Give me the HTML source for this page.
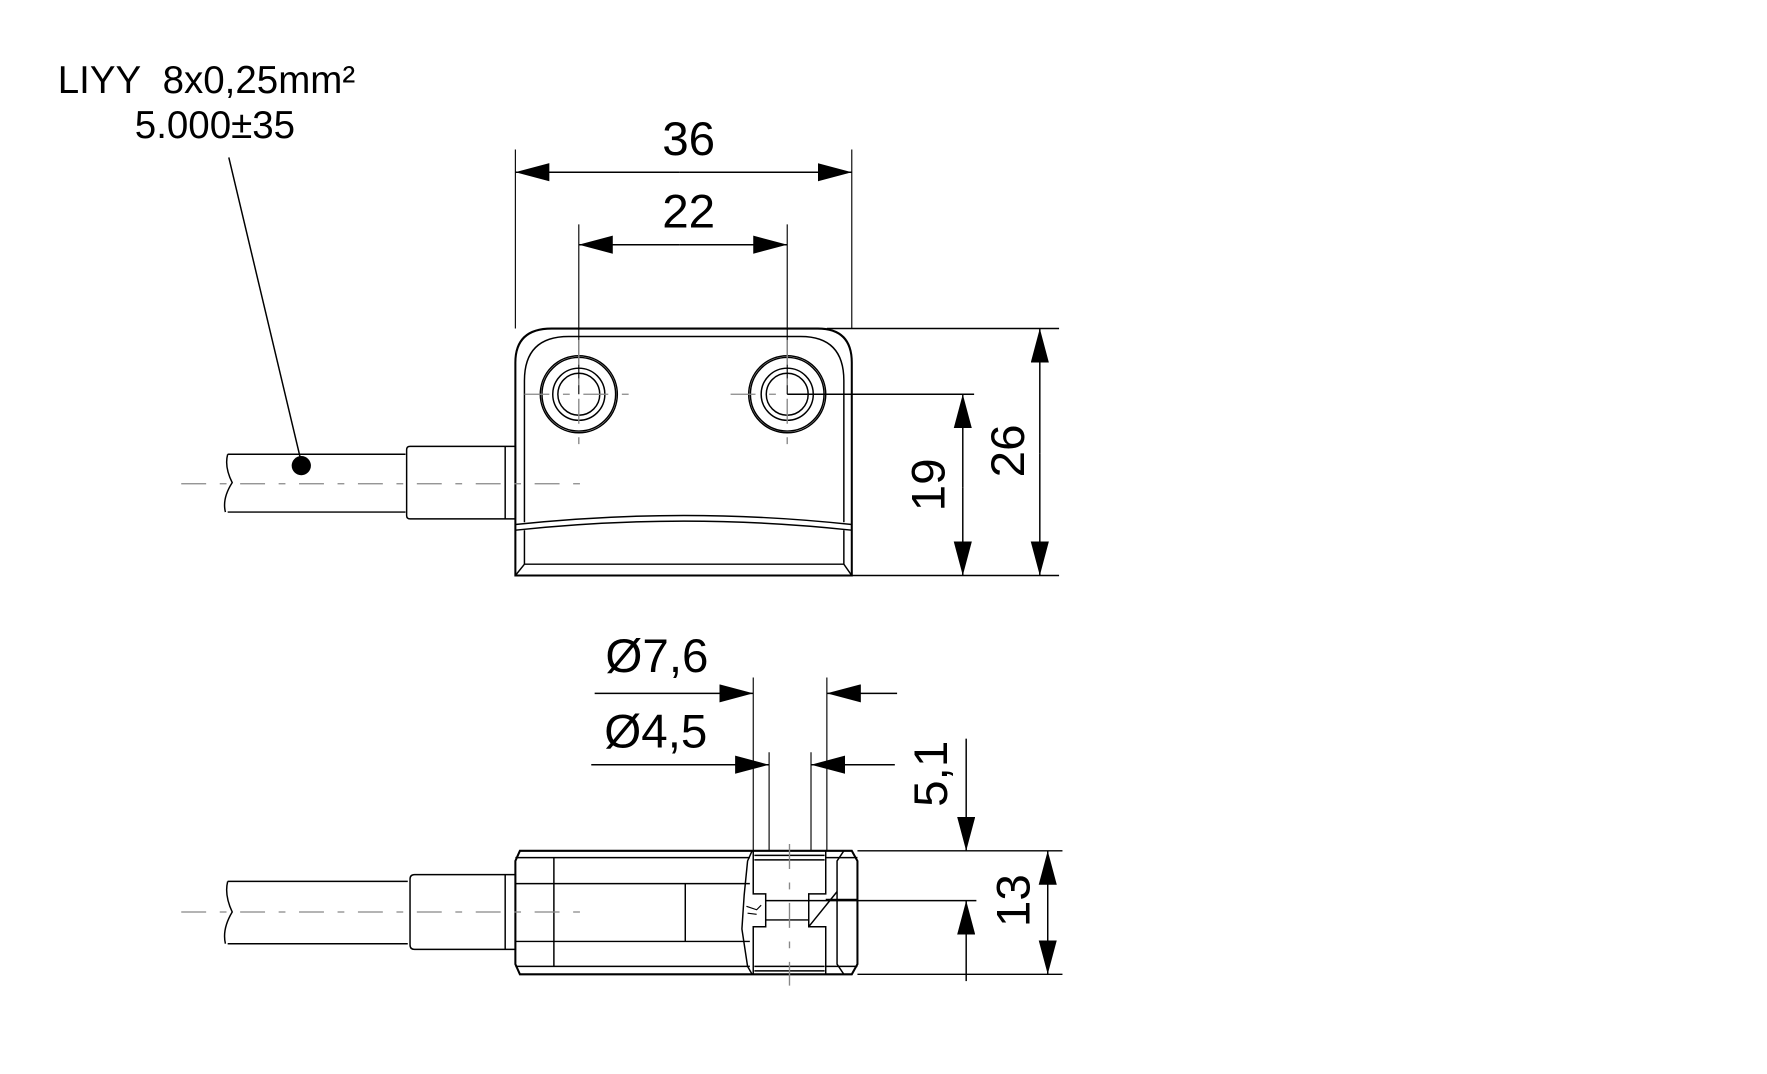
<!DOCTYPE html>
<html><head><meta charset="utf-8"><style>
html,body{margin:0;padding:0;background:#fff;}
svg{display:block;}
text{font-family:"Liberation Sans",Arial,sans-serif;fill:#000;}
</style></head><body>
<svg width="1767" height="1074" viewBox="0 0 1560 948" preserveAspectRatio="none" xmlns="http://www.w3.org/2000/svg">
<defs>
<marker id="a" viewBox="0 0 30 16" refX="30" refY="8" markerWidth="30" markerHeight="16" markerUnits="userSpaceOnUse" orient="auto"><path d="M0,0 L30,8 L0,16 Z" fill="#000"/></marker>
</defs>
<g fill="none" stroke="#000" stroke-width="1.3">
<line x1="202" y1="139" x2="266" y2="408"/>
<path d="M201,401 L358,401 M201,452 L358,452 M201,401 Q198,412 205,426 Q196,440 199,452"/>
<path d="M362,394 L455,394 L455,458 L362,458 Q359,458 359,455 L359,397 Q359,394 362,394 Z"/>
<line x1="446" y1="394" x2="446" y2="458"/>
<path d="M455,508 L455,320 Q455,290 487,290 L722,290 Q752,290 752,320 L752,508 Z" stroke-width="1.8"/>
<path d="M463,461 L463,336 Q463,297 502,297 L707,297 Q745,297 745,336 L745,461"/>
<path d="M455,463 Q604,447 752,463 M455,468 Q604,452 752,468"/>
<path d="M455,508 L463,498 L745,498 L752,508"/>
<line x1="463" y1="468" x2="463" y2="498"/><line x1="745" y1="468" x2="745" y2="498"/>
<circle cx="511" cy="348" r="34"/><circle cx="511" cy="348" r="32.5"/><circle cx="511" cy="348" r="23"/><circle cx="511" cy="348" r="18.5"/>
<circle cx="695" cy="348" r="34"/><circle cx="695" cy="348" r="32.5"/><circle cx="695" cy="348" r="23"/><circle cx="695" cy="348" r="18.5"/>
<line x1="455" y1="132" x2="455" y2="290" stroke-width="1"/>
<line x1="752" y1="132" x2="752" y2="290" stroke-width="1"/>
<line x1="511" y1="198" x2="511" y2="348" stroke-width="1"/>
<line x1="695" y1="198" x2="695" y2="348" stroke-width="1"/>
<line x1="600" y1="152" x2="455" y2="152" marker-end="url(#a)"/>
<line x1="600" y1="152" x2="752" y2="152" marker-end="url(#a)"/>
<line x1="600" y1="216" x2="511" y2="216" marker-end="url(#a)"/>
<line x1="600" y1="216" x2="695" y2="216" marker-end="url(#a)"/>
<line x1="730" y1="290" x2="935" y2="290"/>
<line x1="695" y1="348" x2="860" y2="348"/>
<line x1="752" y1="508" x2="935" y2="508"/>
<line x1="918" y1="400" x2="918" y2="290" marker-end="url(#a)"/>
<line x1="918" y1="400" x2="918" y2="508" marker-end="url(#a)"/>
<line x1="850" y1="430" x2="850" y2="348" marker-end="url(#a)"/>
<line x1="850" y1="430" x2="850" y2="508" marker-end="url(#a)"/>
<path d="M201,778 L360,778 M201,833 L360,833 M201,778 Q198,790 205,805 Q196,820 199,833"/>
<path d="M366,772 L455,772 L455,838 L366,838 Q362,838 362,834 L362,776 Q362,772 366,772 Z"/>
<line x1="446" y1="772" x2="446" y2="838"/>
<path d="M459,751 L752,751 L757,760 L757,851 L752,860 L459,860 L455,851 L455,760 Z" stroke-width="1.8"/>
<path d="M455,757 L662,757 M455,780 L662,780 M455,831 L662,831 M455,853 L662,853"/>
<line x1="489" y1="757" x2="489" y2="853"/>
<line x1="605" y1="780" x2="605" y2="831"/>
<path d="M729,757 L757,757 M729,794 L757,794 M729,853 L757,853"/>
<path d="M664,751 L660,760 L657,790 L655,820 L660,853 L664,860"/>
<path d="M745,751 L739,760 L739,851 L745,860"/>
<path d="M665,751 L665,789 L676,789 L676,818 L665,818 L665,860 M729,751 L729,789 L714,789 L714,818 L729,818 L729,860"/>
<path d="M666,755 L728,755 M666,759 L728,759 M666,853 L728,853 M666,857 L728,857"/>
<path d="M676,795 L714,795 M676,812 L714,812"/>
<line x1="714" y1="818" x2="739" y2="787"/>
<path d="M659,800 L668,803 L672,799 M660,806 L668,807" stroke-width="1"/>
<line x1="665" y1="598" x2="665" y2="751" stroke-width="1"/>
<line x1="730" y1="598" x2="730" y2="751" stroke-width="1"/>
<line x1="679" y1="664" x2="679" y2="751" stroke-width="1"/>
<line x1="716" y1="664" x2="716" y2="751" stroke-width="1"/>
<line x1="525" y1="612" x2="665" y2="612" marker-end="url(#a)"/>
<line x1="792" y1="612" x2="730" y2="612" marker-end="url(#a)"/>
<line x1="522" y1="675" x2="679" y2="675" marker-end="url(#a)"/>
<line x1="790" y1="675" x2="716" y2="675" marker-end="url(#a)"/>
<line x1="757" y1="751" x2="938" y2="751"/>
<line x1="757" y1="860" x2="938" y2="860"/>
<line x1="714" y1="795" x2="862" y2="795"/>
<line x1="853" y1="652" x2="853" y2="751" marker-end="url(#a)"/>
<line x1="853" y1="866" x2="853" y2="795" marker-end="url(#a)"/>
<line x1="925" y1="805" x2="925" y2="751" marker-end="url(#a)"/>
<line x1="925" y1="805" x2="925" y2="860" marker-end="url(#a)"/>
</g>
<circle cx="266" cy="411" r="8.5" fill="#000"/>
<g stroke="#888" stroke-width="1.2" fill="none" stroke-dasharray="22,12,6,12">
<line x1="160" y1="427" x2="515" y2="427"/>
<line x1="160" y1="805" x2="515" y2="805"/>
<line x1="463" y1="348" x2="565" y2="348"/>
<line x1="645" y1="348" x2="695" y2="348"/>
<line x1="511" y1="300" x2="511" y2="400"/>
<line x1="695" y1="300" x2="695" y2="400"/>
<line x1="697" y1="745" x2="697" y2="870"/>
</g>
<text x="51" y="82" font-size="34">LIYY&#160;&#160;8x0,25mm²</text>
<text x="119" y="122" font-size="34">5.000±35</text>
<text x="608" y="137" font-size="42" text-anchor="middle">36</text>
<text x="608" y="201" font-size="42" text-anchor="middle">22</text>
<text x="580" y="593" font-size="42" text-anchor="middle">Ø7,6</text>
<text x="579" y="660" font-size="42" text-anchor="middle">Ø4,5</text>
<text transform="translate(904,398) rotate(-90)" font-size="42" text-anchor="middle">26</text>
<text transform="translate(834,428) rotate(-90)" font-size="42" text-anchor="middle">19</text>
<text transform="translate(836,683) rotate(-90)" font-size="42" text-anchor="middle">5,1</text>
<text transform="translate(909,795) rotate(-90)" font-size="42" text-anchor="middle">13</text>
</svg>
</body></html>
